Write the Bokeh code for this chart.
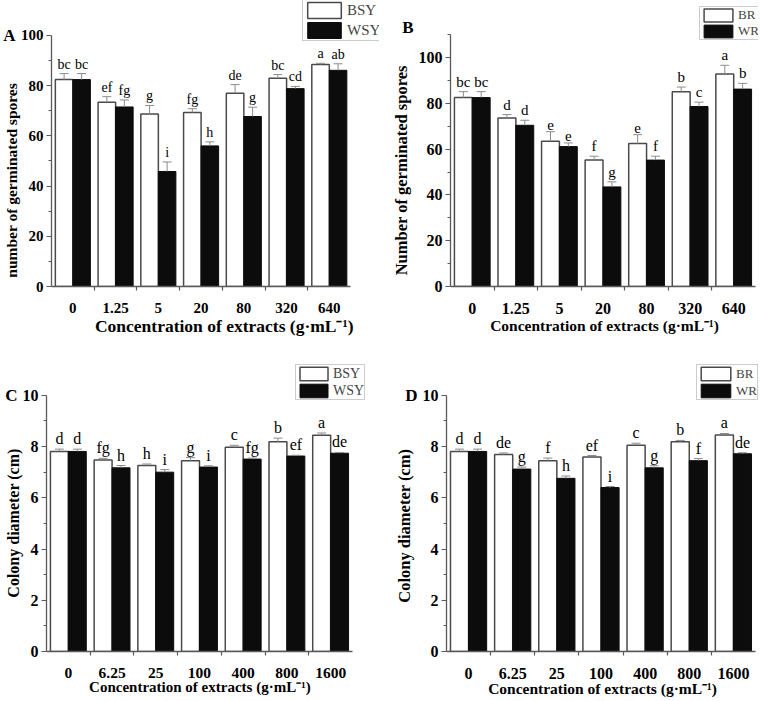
import numpy as np
from bokeh.plotting import figure
from bokeh.models import (ColumnDataSource, FixedTicker, Range1d, Whisker, TeeHead,
                          Legend, LegendItem, LinearAxis)
from bokeh.layouts import column, row
from bokeh.embed import file_html
from bokeh.resources import INLINE
from bokeh.core.properties import value

# ---------------- data ----------------
conc_spores = ["0", "1.25", "5", "20", "80", "320", "640"]
conc_colony = ["0", "6.25", "25", "100", "400", "800", "1600"]
x_title = "Concentration of extracts (g\u00b7mL\u207b\u00b9)"

# Panel A : number of germinated spores, BSY / WSY
a_bsy = [82.4, 73.4, 68.7, 69.3, 77.0, 82.9, 88.4]
a_bsy_err = [2.4, 2.2, 3.4, 1.5, 3.4, 1.5, 0.5]
a_wsy = [82.4, 71.5, 45.8, 56.0, 67.7, 78.8, 86.1]
a_wsy_err = [2.4, 2.8, 3.8, 1.6, 3.7, 0.9, 2.6]
a_bsy_sig = ["bc", "ef", "g", "fg", "de", "bc", "a"]
a_wsy_sig = ["bc", "fg", "i", "h", "g", "cd", "ab"]

# Panel B : number of germinated spores, BR / WR
b_br = [82.5, 73.6, 63.4, 55.2, 62.4, 85.1, 92.8]
b_br_err = [2.6, 1.5, 4.2, 1.7, 3.9, 2.0, 3.8]
b_wr = [82.5, 70.4, 61.1, 43.5, 55.2, 78.6, 86.2]
b_wr_err = [2.6, 2.2, 1.6, 2.2, 1.7, 1.9, 2.5]
b_br_sig = ["bc", "d", "e", "f", "e", "b", "a"]
b_wr_sig = ["bc", "d", "e", "g", "f", "c", "b"]

# Panel C : colony diameter, BSY / WSY
c_bsy = [7.81, 7.48, 7.26, 7.45, 7.97, 8.19, 8.44]
c_bsy_err = [0.09, 0.06, 0.06, 0.12, 0.08, 0.14, 0.09]
c_wsy = [7.81, 7.17, 7.00, 7.20, 7.51, 7.63, 7.74]
c_wsy_err = [0.09, 0.09, 0.10, 0.05, 0.04, 0.03, 0.03]
c_bsy_sig = ["d", "fg", "h", "g", "c", "b", "a"]
c_wsy_sig = ["d", "h", "i", "i", "fg", "ef", "de"]

# Panel D : colony diameter, BR / WR
d_br = [7.81, 7.69, 7.45, 7.59, 8.05, 8.19, 8.45]
d_br_err = [0.09, 0.06, 0.10, 0.06, 0.08, 0.05, 0.06]
d_wr = [7.81, 7.12, 6.76, 6.40, 7.17, 7.45, 7.72]
d_wr_err = [0.09, 0.08, 0.09, 0.04, 0.08, 0.08, 0.04]
d_br_sig = ["d", "de", "f", "ef", "c", "b", "a"]
d_wr_sig = ["d", "g", "h", "i", "g", "f", "de"]

FONT = "Liberation Serif"
BAR_W = 0.41
AXIS_COL = "#5a5a5a"
ERR_COL = "#8c8c8c"
NBSP = "\u00a0"


def style_axis(ax, tick_fs, title_fs):
    ax.axis_line_color = AXIS_COL
    ax.axis_line_width = 1.3
    ax.major_tick_line_color = AXIS_COL
    ax.minor_tick_line_color = AXIS_COL
    ax.major_tick_line_width = 1.2
    ax.minor_tick_line_width = 1.2
    ax.major_label_text_font = FONT
    ax.major_label_text_font_style = "bold"
    ax.major_label_text_font_size = tick_fs
    ax.major_label_text_color = "black"
    ax.axis_label_text_font = FONT
    ax.axis_label_text_font_style = "bold"
    ax.axis_label_text_font_size = title_fs
    ax.axis_label_text_color = "black"


def make_panel(cats, s1, e1, g1, s2, e2, g2, names, yrange, ybound, ymajor, yminor,
               ylabel, letter, letter_y, xend, size, borders, fonts, leg, xstand,
               title_standoff, title_pad, xpad):
    w, h = size
    bl, bb = borders
    p = figure(width=w, height=h, x_range=Range1d(-0.5, xend),
               y_range=Range1d(0, yrange), output_backend="svg", title=None,
               toolbar_location=None, min_border_left=bl, min_border_right=0,
               min_border_top=0, min_border_bottom=bb)
    p.outline_line_color = None
    p.xgrid.visible = False
    p.ygrid.visible = False
    p.background_fill_color = "white"
    p.border_fill_color = "white"

    idx = np.arange(len(cats))
    src = ColumnDataSource(dict(
        x1=idx - BAR_W / 2, x2=idx + BAR_W / 2,
        s1=s1, s2=s2,
        u1=np.array(s1) + np.array(e1), u2=np.array(s2) + np.array(e2),
        g1=g1, g2=g2))

    r1 = p.vbar(x="x1", top="s1", bottom=0, width=BAR_W, source=src,
                fill_color="white", line_color="#4a4a4a", line_width=1.5)
    r2 = p.vbar(x="x2", top="s2", bottom=0, width=BAR_W, source=src,
                fill_color="#0c0c0c", line_color="#0c0c0c", line_width=1)

    for xs, lo, up in (("x1", "s1", "u1"), ("x2", "s2", "u2")):
        wk = Whisker(base=xs, lower=lo, upper=up, source=src, dimension="height",
                     line_color=ERR_COL, line_width=1, lower_head=None,
                     upper_head=TeeHead(size=9, line_color=ERR_COL, line_width=1),
                     level="overlay")
        p.add_layout(wk)

    for xs, ys, ts in (("x1", "u1", "g1"), ("x2", "u2", "g2")):
        p.text(x=xs, y=ys, text=ts, source=src, text_align="center",
               text_baseline="bottom", y_offset=-2, text_font=value(FONT),
               text_font_size=fonts["sig"], text_color="black")

    # x axis
    xa = p.xaxis[0]
    xa.ticker = FixedTicker(ticks=list(idx), minor_ticks=[i + 0.5 for i in idx[:-1]])
    xa.major_label_overrides = {int(i): c for i, c in enumerate(cats)}
    xa.bounds = (-0.5, len(cats) - 0.5)
    xa.major_tick_out = 0
    xa.major_tick_in = 0
    xa.minor_tick_out = 4
    xa.minor_tick_in = 0
    xa.major_label_standoff = xstand[0]
    xa.axis_label = NBSP * xpad[0] + x_title + NBSP * xpad[1]
    xa.axis_label_standoff = xstand[1]
    style_axis(xa, fonts["xtick"], fonts["xtitle"])

    # y axis (ticks and numbers)
    ya = p.yaxis[0]
    ya.ticker = FixedTicker(ticks=ymajor, minor_ticks=yminor)
    ya.bounds = (0, ybound)
    ya.major_tick_out = 5
    ya.major_tick_in = 0
    ya.minor_tick_out = 3
    ya.minor_tick_in = 0
    ya.major_label_standoff = 3
    ya.axis_label = None
    style_axis(ya, fonts["ytick"], fonts["ytitle"])

    # outer left axis: panel letter and the y title
    la = LinearAxis(ticker=FixedTicker(ticks=[letter_y], minor_ticks=[]),
                    major_label_overrides={letter_y: letter})
    style_axis(la, "17px", fonts["ytitle"])
    la.axis_line_color = None
    la.major_tick_line_color = None
    la.minor_tick_line_color = None
    la.major_tick_out = 0
    la.major_tick_in = 0
    la.major_label_standoff = 2
    la.axis_label = ylabel + NBSP * title_pad
    la.axis_label_standoff = title_standoff
    p.add_layout(la, "left")

    legend = Legend(items=[LegendItem(label=names[0], renderers=[r1]),
                           LegendItem(label=names[1], renderers=[r2])],
                    location=leg["loc"], orientation="vertical",
                    glyph_width=leg["gw"], glyph_height=leg["gh"],
                    label_height=leg["gh"], label_width=leg["lw"],
                    label_standoff=2, padding=0, spacing=0, margin=0,
                    label_text_font=FONT, label_text_font_size=leg["fs"],
                    label_text_baseline="middle",
                    border_line_color="#9a9a9a", border_line_width=1.5,
                    background_fill_color="white", background_fill_alpha=1.0)
    p.add_layout(legend)
    return p


pA = make_panel(conc_spores, a_bsy, a_bsy_err, a_bsy_sig, a_wsy, a_wsy_err, a_wsy_sig,
                ["BSY", "WSY"], 113.9, 100, [0, 20, 40, 60, 80, 100], [10, 30, 50, 70, 90],
                "number of germinated spores", "A", 100, 7.174, (379, 350), (49, 64),
                dict(sig="14px", xtick="15px", ytick="15px", xtitle="17.5px", ytitle="15.5px"),
                dict(loc=(251, 245), gw=42, gh=20, lw=30, fs="15px"), (12, 0), -20, 19, (4, 0))

pB = make_panel(conc_spores, b_br, b_br_err, b_br_sig, b_wr, b_wr_err, b_wr_sig,
                ["BR", "WR"], 124.9, 110, [0, 20, 40, 60, 80, 100], [10, 30, 50, 70, 90, 110],
                "Number of germinated spores", "B", 113, 6.569, (379, 350), (71, 64),
                dict(sig="15px", xtick="16px", ytick="16px", xtitle="15.5px", ytitle="16.5px"),
                dict(loc=(249, 246), gw=36, gh=16, lw=16, fs="13px"), (12, 0), -12, 13, (0, 0))

pC = make_panel(conc_colony, c_bsy, c_bsy_err, c_bsy_sig, c_wsy, c_wsy_err, c_wsy_sig,
                ["BSY", "WSY"], 11.75, 10, [0, 2, 4, 6, 8, 10], [1, 3, 5, 7, 9],
                "Colony diameter (cm)", "C", 10, 7.118, (379, 349), (46, 47),
                dict(sig="16px", xtick="15.5px", ytick="16px", xtitle="15px", ytitle="16px"),
                dict(loc=(249, 251), gw=35, gh=17, lw=26, fs="14px"), (12, -2), -20, 11, (0, 7))

pD = make_panel(conc_colony, d_br, d_br_err, d_br_sig, d_wr, d_wr_err, d_wr_sig,
                ["BR", "WR"], 11.75, 10, [0, 2, 4, 6, 8, 10], [1, 3, 5, 7, 9],
                "Colony diameter (cm)", "D", 10, 6.568, (379, 349), (67, 47),
                dict(sig="16px", xtick="16px", ytick="16px", xtitle="15.5px", ytitle="16.5px"),
                dict(loc=(250, 251), gw=37, gh=17, lw=16, fs="13px"), (12, -2), -12, 12, (0, 0))

layout = column(row(pA, pB), row(pC, pD))
open("out.html", "w").write(file_html(layout, INLINE))
